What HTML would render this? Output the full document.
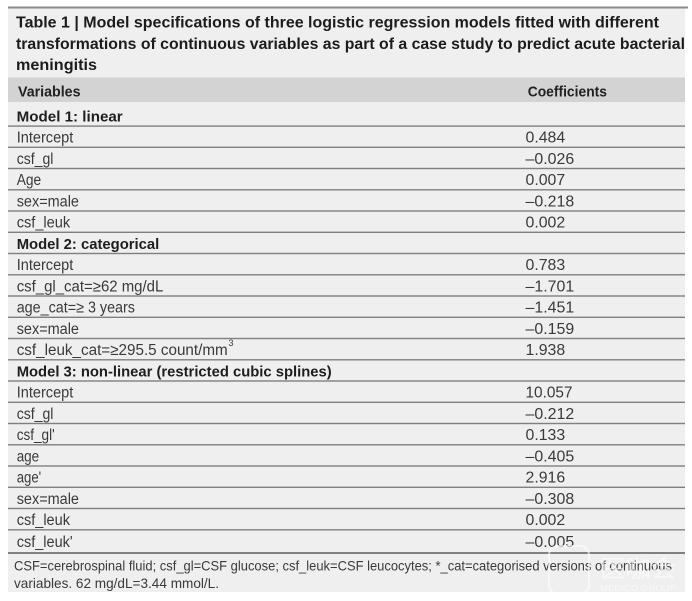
<!DOCTYPE html>
<html>
<head>
<meta charset="utf-8">
<style>
html,body{margin:0;padding:0;background:#fff;}
svg{display:block;}
.t{font-family:"Liberation Sans","Noto Sans CJK SC",sans-serif;font-weight:bold;fill:#1c1c1c;font-size:16px;}
.h{font-family:"Liberation Sans",sans-serif;font-weight:bold;fill:#222;font-size:15px;}
.m{font-family:"Liberation Sans",sans-serif;font-weight:bold;fill:#1e1e1e;font-size:15px;}
.b{font-family:"Liberation Sans",sans-serif;fill:#3a3a3a;font-size:15.5px;}
.f{font-family:"Liberation Sans",sans-serif;fill:#3a3a3a;font-size:14px;}
</style>
</head>
<body>
<svg width="692" height="601" viewBox="0 0 692 601" xmlns="http://www.w3.org/2000/svg">
  <rect x="0" y="0" width="692" height="601" fill="#ffffff"/>
  <rect x="8" y="7" width="677" height="585" fill="#efefef"/>
  <rect x="8" y="6.5" width="680" height="2" fill="#8a8a8a"/>
  <rect x="8" y="77.5" width="677" height="24.5" fill="#d3d3d3"/>

  <text class="t" x="16" y="27.5" textLength="643" lengthAdjust="spacingAndGlyphs">Table 1 | Model specifications of three logistic regression models fitted with different</text>
  <text class="t" x="16" y="48.8" textLength="669" lengthAdjust="spacingAndGlyphs">transformations of continuous variables as part of a case study to predict acute bacterial</text>
  <text class="t" x="16" y="70" textLength="81" lengthAdjust="spacingAndGlyphs">meningitis</text>

  <text class="h" x="18" y="96.5" textLength="62.5" lengthAdjust="spacingAndGlyphs">Variables</text>
  <text class="h" x="527.7" y="96.5" textLength="79.3" lengthAdjust="spacingAndGlyphs">Coefficients</text>

  <g fill="#808080">
    <rect x="8" y="125.4" width="677" height="1.4"/>
    <rect x="8" y="146.6" width="677" height="1.4"/>
    <rect x="8" y="167.8" width="677" height="1.4"/>
    <rect x="8" y="189.1" width="677" height="1.4"/>
    <rect x="8" y="210.3" width="677" height="1.4"/>
    <rect x="8" y="231.6" width="677" height="1.4"/>
    <rect x="8" y="252.8" width="677" height="1.4"/>
    <rect x="8" y="274.1" width="677" height="1.4"/>
    <rect x="8" y="295.3" width="677" height="1.4"/>
    <rect x="8" y="316.6" width="677" height="1.4"/>
    <rect x="8" y="337.8" width="677" height="1.4"/>
    <rect x="8" y="359.1" width="677" height="1.4"/>
    <rect x="8" y="380.3" width="677" height="1.4"/>
    <rect x="8" y="401.6" width="677" height="1.4"/>
    <rect x="8" y="422.8" width="677" height="1.4"/>
    <rect x="8" y="444.1" width="677" height="1.4"/>
    <rect x="8" y="465.3" width="677" height="1.4"/>
    <rect x="8" y="486.6" width="677" height="1.4"/>
    <rect x="8" y="507.8" width="677" height="1.4"/>
    <rect x="8" y="529.1" width="677" height="1.4"/>
    <rect x="8" y="552" width="677" height="2"/>
  </g>

  <text class="m" x="16.7" y="121.5" textLength="106" lengthAdjust="spacingAndGlyphs">Model 1: linear</text>
  <text class="b" x="16.7" y="142.6" textLength="56.6" lengthAdjust="spacingAndGlyphs">Intercept</text>
  <text class="b" x="525.5" y="142.6" textLength="39.7" lengthAdjust="spacingAndGlyphs">0.484</text>
  <text class="b" x="16.7" y="163.8" textLength="36.7" lengthAdjust="spacingAndGlyphs">csf_gl</text>
  <text class="b" x="525.5" y="163.8" textLength="48.7" lengthAdjust="spacingAndGlyphs">–0.026</text>
  <text class="b" x="16.7" y="185" textLength="24.5" lengthAdjust="spacingAndGlyphs">Age</text>
  <text class="b" x="525.5" y="185" textLength="39.7" lengthAdjust="spacingAndGlyphs">0.007</text>
  <text class="b" x="16.7" y="206.3" textLength="62.3" lengthAdjust="spacingAndGlyphs">sex=male</text>
  <text class="b" x="525.5" y="206.3" textLength="48.7" lengthAdjust="spacingAndGlyphs">–0.218</text>
  <text class="b" x="16.7" y="227.5" textLength="53.5" lengthAdjust="spacingAndGlyphs">csf_leuk</text>
  <text class="b" x="525.5" y="227.5" textLength="39.7" lengthAdjust="spacingAndGlyphs">0.002</text>

  <text class="m" x="16.7" y="248.8" textLength="142.6" lengthAdjust="spacingAndGlyphs">Model 2: categorical</text>
  <text class="b" x="16.7" y="270" textLength="56.6" lengthAdjust="spacingAndGlyphs">Intercept</text>
  <text class="b" x="525.5" y="270" textLength="39.7" lengthAdjust="spacingAndGlyphs">0.783</text>
  <text class="b" x="16.7" y="291.3" textLength="146.6" lengthAdjust="spacingAndGlyphs">csf_gl_cat=≥62 mg/dL</text>
  <text class="b" x="525.5" y="291.3" textLength="48.7" lengthAdjust="spacingAndGlyphs">–1.701</text>
  <text class="b" x="16.7" y="312.5" textLength="118.3" lengthAdjust="spacingAndGlyphs">age_cat=≥ 3 years</text>
  <text class="b" x="525.5" y="312.5" textLength="48.7" lengthAdjust="spacingAndGlyphs">–1.451</text>
  <text class="b" x="16.7" y="333.8" textLength="62.3" lengthAdjust="spacingAndGlyphs">sex=male</text>
  <text class="b" x="525.5" y="333.8" textLength="48.7" lengthAdjust="spacingAndGlyphs">–0.159</text>
  <text class="b" x="16.7" y="355" textLength="211" lengthAdjust="spacingAndGlyphs">csf_leuk_cat=≥295.5 count/mm</text>
  <text class="b" x="228.5" y="346" style="font-size:9px">3</text>
  <text class="b" x="525.5" y="355" textLength="39.7" lengthAdjust="spacingAndGlyphs">1.938</text>

  <text class="m" x="16.7" y="376.3" textLength="315" lengthAdjust="spacingAndGlyphs">Model 3: non-linear (restricted cubic splines)</text>
  <text class="b" x="16.7" y="397.5" textLength="56.6" lengthAdjust="spacingAndGlyphs">Intercept</text>
  <text class="b" x="525.5" y="397.5" textLength="47" lengthAdjust="spacingAndGlyphs">10.057</text>
  <text class="b" x="16.7" y="418.8" textLength="36.7" lengthAdjust="spacingAndGlyphs">csf_gl</text>
  <text class="b" x="525.5" y="418.8" textLength="48.7" lengthAdjust="spacingAndGlyphs">–0.212</text>
  <text class="b" x="16.7" y="440" textLength="38" lengthAdjust="spacingAndGlyphs">csf_gl'</text>
  <text class="b" x="525.5" y="440" textLength="39.7" lengthAdjust="spacingAndGlyphs">0.133</text>
  <text class="b" x="16.7" y="461.3" textLength="22.5" lengthAdjust="spacingAndGlyphs">age</text>
  <text class="b" x="525.5" y="461.3" textLength="48.7" lengthAdjust="spacingAndGlyphs">–0.405</text>
  <text class="b" x="16.7" y="482.5" textLength="24.5" lengthAdjust="spacingAndGlyphs">age'</text>
  <text class="b" x="525.5" y="482.5" textLength="39.7" lengthAdjust="spacingAndGlyphs">2.916</text>
  <text class="b" x="16.7" y="503.8" textLength="62.3" lengthAdjust="spacingAndGlyphs">sex=male</text>
  <text class="b" x="525.5" y="503.8" textLength="48.7" lengthAdjust="spacingAndGlyphs">–0.308</text>
  <text class="b" x="16.7" y="525" textLength="53.3" lengthAdjust="spacingAndGlyphs">csf_leuk</text>
  <text class="b" x="525.5" y="525" textLength="39.7" lengthAdjust="spacingAndGlyphs">0.002</text>
  <text class="b" x="16.7" y="547" textLength="56" lengthAdjust="spacingAndGlyphs">csf_leuk'</text>
  <text class="b" x="525.5" y="547" textLength="48.7" lengthAdjust="spacingAndGlyphs">–0.005</text>

  <text class="f" x="14" y="570.7" textLength="658" lengthAdjust="spacingAndGlyphs">CSF=cerebrospinal fluid; csf_gl=CSF glucose; csf_leuk=CSF leucocytes; *_cat=categorised versions of continuous</text>
  <text class="f" x="14" y="588" textLength="205" lengthAdjust="spacingAndGlyphs">variables. 62 mg/dL=3.44 mmol/L.</text>

  <g opacity="0.6">
    <rect x="549" y="546" width="40" height="48" rx="9" fill="none" stroke="#ffffff" stroke-width="2"/>
    <text x="600" y="577" style="font-family:'Noto Sans CJK SC',sans-serif;font-size:24px;fill:#ffffff;" textLength="76" lengthAdjust="spacingAndGlyphs">医咖会</text>
    <text x="600" y="591" style="font-family:'Liberation Sans',sans-serif;font-size:8px;fill:#ffffff;" textLength="76" lengthAdjust="spacingAndGlyphs">MEDICO GROUP</text>
  </g>
</svg>
</body>
</html>
